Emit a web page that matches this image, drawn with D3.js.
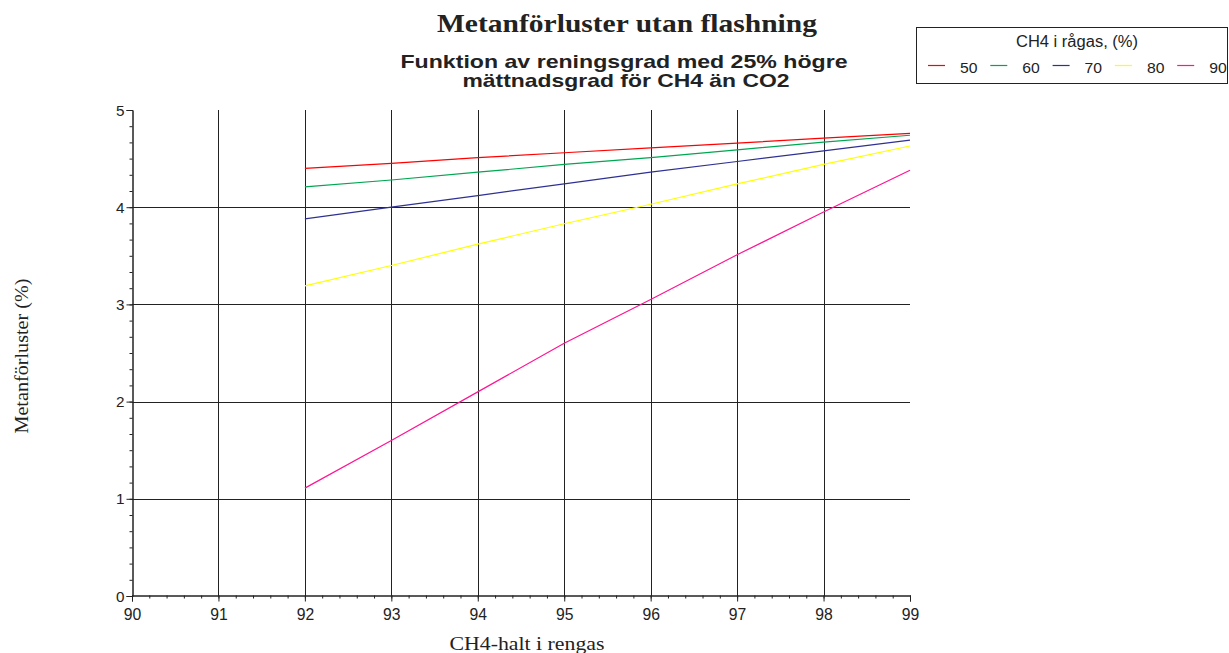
<!DOCTYPE html>
<html>
<head>
<meta charset="utf-8">
<script src="https://cdn.jsdelivr.net/npm/d3@7"></script>
<style>
  body { margin: 0; background: #fff; }
  svg { display: block; }
</style>
</head>
<body>
<svg id="chart" width="1229" height="653"></svg>
<script>
// values
var xValues = [92, 93, 94, 95, 96, 97, 98, 99];
var seriesNames = ['50', '60', '70', '80', '90'];
var seriesColors = ['#ff0000', '#00a651', '#2e3192', '#ffff00', '#ff1493'];
var s50 = [4.40, 4.45, 4.51, 4.56, 4.61, 4.66, 4.71, 4.76];
var s60 = [4.21, 4.28, 4.36, 4.44, 4.51, 4.59, 4.67, 4.74];
var s70 = [3.88, 4.00, 4.12, 4.24, 4.36, 4.47, 4.58, 4.69];
var s80 = [3.19, 3.40, 3.62, 3.83, 4.03, 4.24, 4.44, 4.63];
var s90 = [1.11, 1.60, 2.10, 2.60, 3.05, 3.51, 3.95, 4.38];
var allSeries = [s50, s60, s70, s80, s90];
var xTicks = [90, 91, 92, 93, 94, 95, 96, 97, 98, 99];
var yTicks = [0, 1, 2, 3, 4, 5];

var svg = d3.select('#chart');
var pLeft = 132, pRight = 910, pTop = 110, pBottom = 596;
var sans = 'Liberation Sans, Arial, sans-serif';
var serif = 'Liberation Serif, Times New Roman, serif';

var x = d3.scaleLinear().domain([90, 99]).range([pLeft, pRight]);
var y = d3.scaleLinear().domain([0, 5]).range([pBottom, pTop]);

// stretch a text to a measured width
function fitWidth(sel, w) {
  sel.attr('textLength', w).attr('lengthAdjust', 'spacingAndGlyphs');
}

// grid
svg.append('g').selectAll('line').data(xTicks.slice(1, -1)).enter().append('line')
  .attr('x1', function(d){ return Math.round(x(d)) + 0.5; })
  .attr('x2', function(d){ return Math.round(x(d)) + 0.5; })
  .attr('y1', pTop).attr('y2', pBottom)
  .attr('stroke', '#222').attr('stroke-width', 1);
svg.append('g').selectAll('line').data(yTicks.slice(1, -1)).enter().append('line')
  .attr('x1', pLeft).attr('x2', pRight)
  .attr('y1', function(d){ return Math.round(y(d)) + 0.5; })
  .attr('y2', function(d){ return Math.round(y(d)) + 0.5; })
  .attr('stroke', '#222').attr('stroke-width', 1);

// axes
var xMinor = d3.range(90, 99.001, 0.2);
var yMinor = d3.range(0, 5.001, 1/6);

var xAxis = svg.append('g').attr('transform', 'translate(0,' + (pBottom - 0.5) + ')');
xAxis.call(d3.axisBottom(x).tickValues(xMinor).tickSize(3).tickFormat(''));
xAxis.append('g').call(d3.axisBottom(x).tickValues(xTicks).tickSize(6).tickFormat(d3.format('d')));
var yAxis = svg.append('g').attr('transform', 'translate(' + (pLeft + 0.5) + ',0)');
yAxis.call(d3.axisLeft(y).tickValues(yMinor).tickSize(3).tickFormat(''));
yAxis.append('g').call(d3.axisLeft(y).tickValues(yTicks).tickSize(6).tickFormat(d3.format('d')));

svg.selectAll('.domain').attr('stroke', '#222');
svg.selectAll('.tick line').attr('stroke', '#222');
svg.selectAll('.tick text').attr('font-family', sans).attr('fill', '#222');
xAxis.selectAll('.tick text').attr('font-size', 17).attr('y', 0).attr('dy', 0)
  .attr('transform', 'translate(0,24.5)').call(fitWidth, 17.5);
yAxis.selectAll('.tick text').attr('font-size', 14).attr('x', -8).attr('dy', '0.36em')
  .call(fitWidth, 8.5);

// lines
var line = d3.line()
  .x(function(d, i){ return x(xValues[i]); })
  .y(function(d){ return y(d); });

svg.append('g').selectAll('path').data(allSeries).enter().append('path')
  .attr('d', line)
  .attr('fill', 'none')
  .attr('stroke', function(d, i){ return seriesColors[i]; })
  .attr('stroke-width', 1.2);

// titles
svg.append('text').attr('x', 627).attr('y', 32).attr('text-anchor', 'middle')
  .attr('font-family', serif).attr('font-weight', 'bold').attr('font-size', 25).attr('fill', '#222')
  .text('Metanförluster utan flashning').call(fitWidth, 380);
svg.append('text').attr('x', 624).attr('y', 68).attr('text-anchor', 'middle')
  .attr('font-family', sans).attr('font-weight', 'bold').attr('font-size', 19).attr('fill', '#222')
  .text('Funktion av reningsgrad med 25% högre').call(fitWidth, 447);
svg.append('text').attr('x', 626).attr('y', 87).attr('text-anchor', 'middle')
  .attr('font-family', sans).attr('font-weight', 'bold').attr('font-size', 19).attr('fill', '#222')
  .text('mättnadsgrad för CH4 än CO2').call(fitWidth, 327);

// axis titles
svg.append('text').attr('x', 527).attr('y', 650).attr('text-anchor', 'middle')
  .attr('font-family', serif).attr('font-size', 19).attr('fill', '#222')
  .text('CH4-halt i rengas').call(fitWidth, 155);
svg.append('text')
  .attr('transform', 'translate(28,356) rotate(-90)')
  .attr('text-anchor', 'middle')
  .attr('font-family', serif).attr('font-size', 18).attr('fill', '#222')
  .text('Metanförluster (%)').call(fitWidth, 155);

// legend
var lg = svg.append('g');
lg.append('rect').attr('x', 916.5).attr('y', 27.5).attr('width', 311).attr('height', 56)
  .attr('fill', '#fff').attr('stroke', '#222');
lg.append('text').attr('x', 1077).attr('y', 47).attr('text-anchor', 'middle')
  .attr('font-family', sans).attr('font-size', 16).attr('fill', '#222')
  .text('CH4 i rågas, (%)').call(fitWidth, 122);
var items = lg.selectAll('g.item').data(seriesNames).enter().append('g')
  .attr('transform', function(d, i){ return 'translate(' + (928 + i * 62.3) + ',0)'; });
items.append('line').attr('x1', 0).attr('x2', 17).attr('y1', 65.5).attr('y2', 65.5)
  .attr('stroke', function(d, i){ return seriesColors[i]; }).attr('stroke-width', 1.2);
items.append('text').attr('x', 32).attr('y', 73)
  .attr('font-family', sans).attr('font-size', 15).attr('fill', '#222')
  .text(function(d){ return d; }).call(fitWidth, 17.5);
</script>
</body>
</html>
